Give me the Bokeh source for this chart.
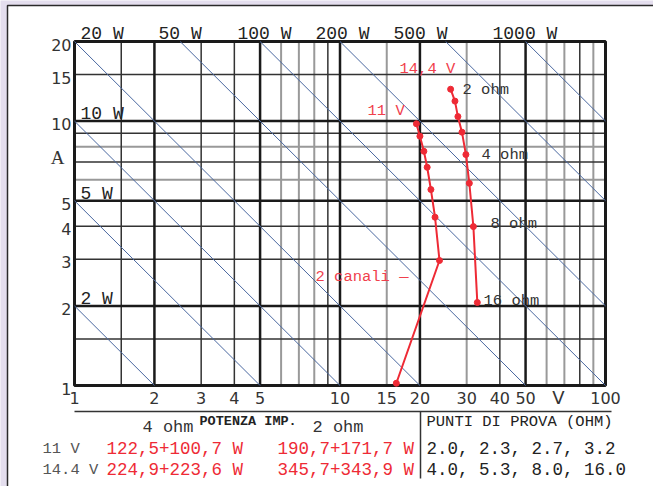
import math
from bokeh.plotting import figure
from bokeh.models import Range1d
from bokeh.embed import file_html
from bokeh.resources import INLINE
from bokeh.core.properties import value

# ---------------- data ----------------
power_watts = [2, 5, 10, 20, 50, 100, 200, 500, 1000]
power_labels = ["2 W", "5 W", "10 W", "20 W", "50 W", "100 W", "200 W", "500 W", "1000 W"]

v_11 = [19.4, 20.0, 20.7, 21.3, 22.0, 22.8, 23.7, 16.3]
a_11 = [9.77, 8.77, 7.69, 6.69, 5.51, 4.33, 2.97, 1.02]

v_144 = [26.1, 27.1, 27.8, 28.8, 29.8, 30.7, 31.8, 32.9]
a_144 = [13.2, 11.9, 10.4, 9.08, 7.47, 5.82, 3.99, 2.06]

x_ticks = [1, 2, 3, 4, 5, 10, 15, 20, 30, 40, 50, 100]
y_ticks = [1, 2, 3, 4, 5, 10, 15, 20]

x_grid_major = [2, 5, 10, 20, 50]
x_grid_dark = [1.5, 3, 4, 9, 40, 80]
x_grid_grey = [6, 7, 8, 15, 30, 60, 70, 90]
y_grid_major = [2, 5, 10]
y_grid_dark = [1.5, 3, 4, 7, 9, 15]
y_grid_grey = [6, 8]

ohm_labels = ["2 ohm", "4 ohm", "8 ohm", "16 ohm"]

table_cols = ["4 ohm", "2 ohm"]
table_rows = ["11 V", "14.4 V"]
table_4ohm = ["122,5+100,7 W", "224,9+223,6 W"]
table_2ohm = ["190,7+171,7 W", "345,7+343,9 W"]
test_points = ["2.0, 2.3, 2.7, 3.2", "4.0, 5.3, 8.0, 16.0"]

V_MIN, V_MAX, A_MIN, A_MAX = 1, 100, 1, 20

# ---------------- layout ----------------
W, H = 653, 486
PX_L, PX_R, PY_B, PY_T = 74, 605, 385, 41
KX = (PX_R - PX_L) / math.log10(V_MAX / V_MIN)
KY = (PY_B - PY_T) / math.log10(A_MAX / A_MIN)


def vx(px):
    return 10 ** ((px - PX_L) / KX)


def ay(py):
    return 10 ** ((PY_B - py) / KY)


p = figure(width=W, height=H, x_range=Range1d(vx(0), vx(W)), y_range=Range1d(ay(H), ay(0)),
           x_axis_type="log", y_axis_type="log", x_axis_location=None, y_axis_location=None,
           min_border=0, toolbar_location=None, output_backend="svg", outline_line_color=None)
p.background_fill_color = "#e4deee"
p.border_fill_color = "#e4deee"
p.xgrid.visible = False
p.ygrid.visible = False

MONO = value("Liberation Mono")
SANS = value("DejaVu Sans")
RED = "#ee2a35"
RED_T = "#f0404c"

# white panel
p.quad(left=vx(7), right=vx(W + 20), bottom=ay(H + 20), top=ay(5),
       fill_color="white", line_color="#2a2a2a", line_width=1.5)

# grid
def vlines(xs, color, width):
    p.segment(x0=xs, x1=xs, y0=[A_MIN] * len(xs), y1=[A_MAX] * len(xs),
              line_color=color, line_width=width)


def hlines(ys, color, width):
    p.segment(x0=[V_MIN] * len(ys), x1=[V_MAX] * len(ys), y0=ys, y1=ys,
              line_color=color, line_width=width)


vlines(x_grid_grey, "#999999", 2)
hlines(y_grid_grey, "#999999", 2)
vlines(x_grid_dark, "#333333", 1.5)
hlines(y_grid_dark, "#333333", 1.5)
vlines(x_grid_major, "#1a1a1a", 2.5)
hlines(y_grid_major, "#1a1a1a", 2.5)
p.quad(left=V_MIN, right=V_MAX, bottom=A_MIN, top=A_MAX, fill_color=None,
       line_color="#1a1a1a", line_width=3)

# constant power lines
x0s, y0s, x1s, y1s = [], [], [], []
for P in power_watts:
    va = max(V_MIN, P / A_MAX)
    vb = min(V_MAX, P / A_MIN)
    x0s.append(va); y0s.append(P / va); x1s.append(vb); y1s.append(P / vb)
p.segment(x0=x0s, y0=y0s, x1=x1s, y1=y1s, line_color="#4a68a0", line_width=1)

# power labels
pl_pos = {"20 W": (80, 33), "50 W": (158, 33), "100 W": (237, 33), "200 W": (315, 33),
          "500 W": (393, 33), "1000 W": (492, 33), "10 W": (80, 113), "5 W": (80, 193),
          "2 W": (80, 298)}
p.text(x=[vx(pl_pos[t][0]) for t in power_labels], y=[ay(pl_pos[t][1]) for t in power_labels],
       text=power_labels, text_font=MONO, text_font_size="18px", text_color="#222222",
       text_align="left", text_baseline="middle")

# red curves
p.line(v_11, a_11, line_color=RED, line_width=2)
p.scatter(v_11, a_11, size=6, fill_color=RED, line_color=RED)
p.line(v_144, a_144, line_color=RED, line_width=2)
p.scatter(v_144, a_144, size=6, fill_color=RED, line_color=RED)

# curve labels
red_lab = [("14,4 V", 399, 68), ("11 V", 367, 110), ("2 canali \u2014", 315, 276)]
p.text(x=[vx(a[1]) for a in red_lab], y=[ay(a[2]) for a in red_lab], text=[a[0] for a in red_lab],
       text_font=MONO, text_font_size="15.5px", text_color=RED_T, text_align="left",
       text_baseline="middle")

ohm_pos = [(462, 89), (481, 154), (490, 223), (483, 300)]
p.text(x=[vx(a[0]) for a in ohm_pos], y=[ay(a[1]) for a in ohm_pos], text=ohm_labels,
       text_font=MONO, text_font_size="15.5px", text_color="#333333", text_align="left",
       text_baseline="middle")

# tick labels
p.text(x=x_ticks, y=[ay(397)] * len(x_ticks), text=[str(t) for t in x_ticks],
       text_font=SANS, text_font_size="16px", text_color="#333333", text_align="center",
       text_baseline="middle")
p.text(x=[vx(71)] * len(y_ticks), y=y_ticks, text=[str(t) for t in y_ticks], y_offset=3,
       text_font=SANS, text_font_size="16px", text_color="#333333", text_align="right",
       text_baseline="middle")
p.text(x=[vx(558)], y=[ay(397)], text=["V"], text_font=SANS, text_font_size="18px",
       text_color="#333333", text_align="center", text_baseline="middle")
p.text(x=[vx(57)], y=[ay(157)], text=["A"], text_font=value("Liberation Serif"),
       text_font_size="19px", text_color="#333333", text_align="center", text_baseline="middle")

# table
p.segment(x0=[vx(74)], x1=[vx(611)], y0=[ay(411)], y1=[ay(411)], line_color="#333333", line_width=1.5)
p.segment(x0=[vx(420)], x1=[vx(420)], y0=[ay(411)], y1=[ay(478)], line_color="#333333", line_width=1.5)

p.text(x=[vx(142), vx(312)], y=[ay(427)] * 2, text=table_cols, text_font=MONO,
       text_font_size="17px", text_color="#333333", text_align="left", text_baseline="middle")
p.text(x=[vx(199)], y=[ay(421)], text=["POTENZA IMP."], text_font=MONO, text_font_style="bold",
       text_font_size="13.5px", text_color="#222222", text_align="left", text_baseline="middle")
p.text(x=[vx(426)], y=[ay(421)], text=["PUNTI DI PROVA (OHM)"], text_font=MONO,
       text_font_size="15.5px", text_color="#222222", text_align="left", text_baseline="middle")
row_y = [ay(448), ay(469)]
p.text(x=[vx(42)] * 2, y=row_y, text=table_rows, text_font=MONO, text_font_size="15.5px",
       text_color="#555555", text_align="left", text_baseline="middle")
p.text(x=[vx(106)] * 2, y=row_y, text=table_4ohm, text_font=MONO, text_font_size="17.5px",
       text_color=RED, text_align="left", text_baseline="middle")
p.text(x=[vx(277)] * 2, y=row_y, text=table_2ohm, text_font=MONO, text_font_size="17.5px",
       text_color=RED, text_align="left", text_baseline="middle")
p.text(x=[vx(426)] * 2, y=row_y, text=test_points, text_font=MONO, text_font_size="17.5px",
       text_color="#222222", text_align="left", text_baseline="middle")

open("out.html", "w").write(file_html(p, INLINE))
